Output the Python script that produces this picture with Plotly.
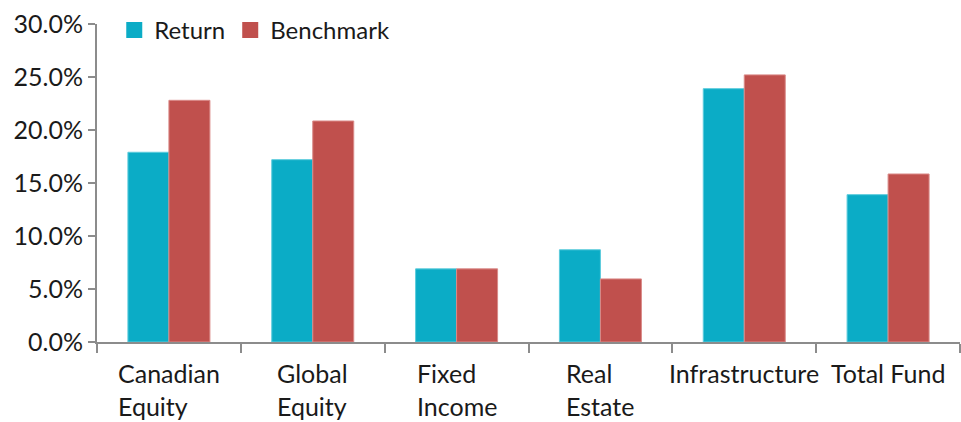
import plotly.graph_objects as go

categories = ["Canadian Equity", "Global Equity", "Fixed Income", "Real Estate", "Infrastructure", "Total Fund"]
category_labels = ["Canadian<br>Equity", "Global<br>Equity", "Fixed<br>Income", "Real<br>Estate", "Infrastructure", "Total Fund"]
return_vals = [17.9, 17.2, 6.9, 8.7, 23.9, 13.9]
benchmark_vals = [22.8, 20.85, 6.9, 5.95, 25.2, 15.85]
y_ticks = [0, 5, 10, 15, 20, 25, 30]
y_tick_labels = [f"{v:.1f}%" for v in y_ticks]

font_family = "Lato, 'Noto Sans', sans-serif"
ret_color = "#0BACC6"
ben_color = "#C0504D"
text_color = "#1a1a1a"

fig = go.Figure()
fig.add_trace(go.Bar(name="Return", x=categories, y=return_vals, showlegend=False,
                     marker=dict(color=ret_color, line=dict(color="#5CCBDC", width=1))))
fig.add_trace(go.Bar(name="Benchmark", x=categories, y=benchmark_vals, showlegend=False,
                     marker=dict(color=ben_color, line=dict(color="#DA8A88", width=1))))
# legend entries with larger square swatches
fig.add_trace(go.Scatter(name="Return", x=[None], y=[None], mode="markers",
                         marker=dict(symbol="square", size=20, color=ret_color)))
fig.add_trace(go.Scatter(name="Benchmark", x=[None], y=[None], mode="markers",
                         marker=dict(symbol="square", size=20, color=ben_color)))

# category labels: block centred on category, lines left-aligned
for cat, lab in zip(categories, category_labels):
    fig.add_annotation(x=cat, xref="x", y=0, yref="paper", yanchor="top", yshift=-14,
                       text=lab, showarrow=False, align="left",
                       font=dict(size=25, color=text_color, family=font_family))

fig.update_layout(
    width=961, height=422,
    margin=dict(l=97, r=1, t=24, b=80),
    paper_bgcolor="white", plot_bgcolor="white",
    barmode="group", bargap=0.43, bargroupgap=0,
    font=dict(family=font_family, size=25, color=text_color),
    showlegend=True,
    legend=dict(orientation="h", x=0.02, y=0.98, xanchor="left", yanchor="middle",
                font=dict(size=24), itemwidth=30, traceorder="normal",
                bgcolor="rgba(0,0,0,0)"),
    xaxis=dict(showline=True, linecolor="#8c8c8c", linewidth=2, automargin=False,
               ticks="outside", tickson="boundaries", ticklen=9, tickcolor="#8c8c8c", tickwidth=2,
               showgrid=False, showticklabels=False),
    yaxis=dict(range=[0, 30], tickvals=y_ticks, ticktext=y_tick_labels, automargin=False,
               showline=True, linecolor="#8c8c8c", linewidth=2,
               ticks="outside", ticklen=7, tickcolor="#8c8c8c", tickwidth=2,
               showgrid=False, zeroline=False, tickfont=dict(size=25)),
)

fig.write_html("out.html")
